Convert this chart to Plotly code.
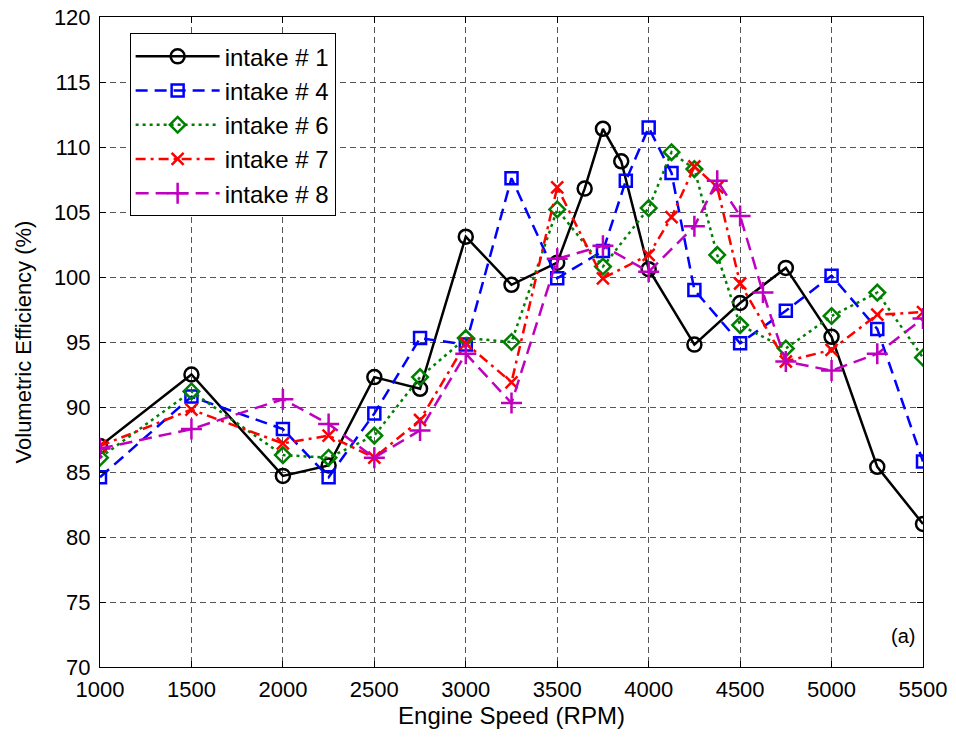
import plotly.graph_objects as go

# Engine speed (RPM) and volumetric efficiency (%) for each intake
rpm_1 = [1000, 1500, 2000, 2250, 2500, 2750, 3000, 3250, 3500, 3650, 3750, 3850, 4000, 4250, 4500, 4750, 5000, 5250, 5500]
ve_1 = [87.0, 92.5, 84.7, 85.5, 92.3, 91.4, 103.1, 99.4, 101.1, 106.8, 111.4, 108.9, 100.6, 94.8, 98.0, 100.7, 95.4, 85.4, 81.0]

rpm_4 = [1000, 1500, 2000, 2250, 2500, 2750, 3000, 3250, 3500, 3750, 3875, 4000, 4125, 4250, 4500, 4750, 5000, 5250, 5500]
ve_4 = [84.6, 90.8, 88.3, 84.6, 89.5, 95.3, 94.8, 107.6, 99.9, 102.0, 107.4, 111.5, 108.0, 99.0, 94.9, 97.4, 100.1, 96.0, 85.8]

rpm_6 = [1000, 1500, 2000, 2250, 2500, 2750, 3000, 3250, 3500, 3750, 4000, 4125, 4250, 4375, 4500, 4750, 5000, 5250, 5500]
ve_6 = [86.1, 91.2, 86.3, 86.1, 87.8, 92.3, 95.3, 95.0, 105.2, 100.8, 105.3, 109.6, 108.3, 101.7, 96.3, 94.5, 97.0, 98.8, 93.8]

rpm_7 = [1000, 1500, 2000, 2250, 2500, 2750, 3000, 3250, 3500, 3750, 4000, 4125, 4250, 4375, 4500, 4750, 5000, 5250, 5500]
ve_7 = [87.0, 89.8, 87.2, 87.8, 86.1, 89.0, 94.9, 91.9, 106.9, 99.9, 101.7, 104.6, 108.5, 106.9, 99.5, 93.5, 94.4, 97.1, 97.3]

rpm_8 = [1000, 1500, 2000, 2250, 2500, 2750, 3000, 3250, 3500, 3750, 4000, 4250, 4375, 4500, 4625, 4750, 5000, 5250, 5500]
ve_8 = [86.8, 88.3, 90.6, 88.7, 86.1, 88.2, 94.1, 90.3, 101.4, 102.4, 100.4, 103.9, 107.4, 104.7, 98.8, 93.5, 92.8, 94.1, 96.8]

x_ticks = [1000, 1500, 2000, 2500, 3000, 3500, 4000, 4500, 5000, 5500]
y_ticks = [70, 75, 80, 85, 90, 95, 100, 105, 110, 115, 120]

series = [
    ("intake # 1", rpm_1, ve_1, "#000000", "solid", "circle-open", 14),
    ("intake # 4", rpm_4, ve_4, "#0000ff", "12px,7px", "square-open", 12),
    ("intake # 6", rpm_6, ve_6, "#008000", "3px,4px", "diamond-open", 12),
    ("intake # 7", rpm_7, ve_7, "#ff0000", "10px,5px,3px,5px", "x-thin", 12),
    ("intake # 8", rpm_8, ve_8, "#bf00bf", "13px,7px", "cross-thin", 15),
]

fig = go.Figure()
for i, (name, xs, ys, color, dash, symbol, size) in enumerate(series):
    fig.add_trace(go.Scatter(
        x=xs, y=ys, name=name, mode="lines+markers",
        legendgroup=f"g{i}",
        line=dict(color=color, width=2.5, dash=dash),
        marker=dict(symbol=symbol, size=size, color=color,
                    line=dict(color=color, width=2.5)),
    ))

font_family = "Liberation Sans, Arial, sans-serif"

fig.add_annotation(x=5390, y=72.4, xref="x", yref="y", text="(a)",
                   showarrow=False, font=dict(family=font_family, size=20, color="black"))

axis_common = dict(
    showline=True, linecolor="black", linewidth=1, mirror="allticks",
    ticks="inside", ticklen=6, tickcolor="black",
    showgrid=True, gridcolor="#555555", gridwidth=1, griddash="6px,4px",
    zeroline=False, automargin=False,
    tickfont=dict(family=font_family, size=22, color="black"),
)

fig.update_xaxes(range=[1000, 5500], tickvals=x_ticks, ticklabelstandoff=3,
                 title=dict(text="Engine Speed (RPM)", font=dict(family=font_family, size=24, color="black"), standoff=4),
                 **axis_common)
fig.update_yaxes(range=[70, 120], tickvals=y_ticks, ticklabelstandoff=4,
                 title=dict(text="Volumetric Efficiency (%)", font=dict(family=font_family, size=22, color="black"), standoff=16),
                 **axis_common)

fig.update_layout(
    width=956, height=740,
    margin=dict(l=100, r=33, t=17, b=73),
    paper_bgcolor="white", plot_bgcolor="white",
    showlegend=True,
    legend=dict(x=0.036, y=0.975, xanchor="left", yanchor="top",
                bgcolor="white", bordercolor="black", borderwidth=1,
                font=dict(family=font_family, size=24, color="black"),
                traceorder="grouped", tracegroupgap=0, itemwidth=84),
)

fig.write_html("out.html")
